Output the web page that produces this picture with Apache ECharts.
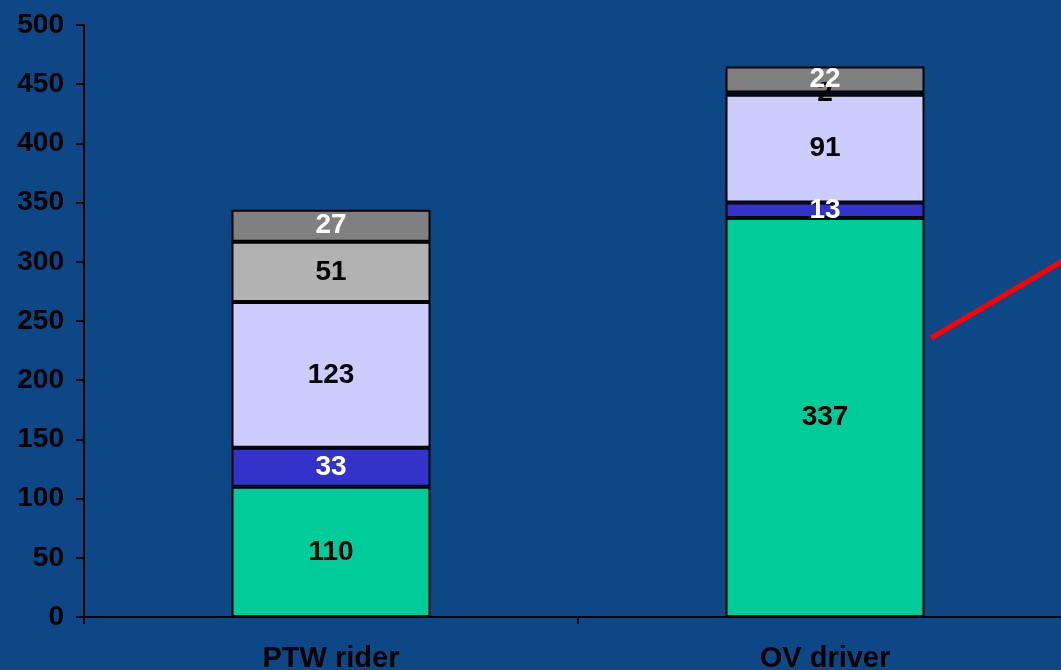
<!DOCTYPE html>
<html>
<head>
<meta charset="utf-8">
<script src="https://cdn.jsdelivr.net/npm/echarts@6/dist/echarts.min.js"></script>
<style>
  html, body { margin: 0; padding: 0; background: #0E4785; overflow: hidden; }
  #chart { width: 1072px; height: 670px; }
</style>
</head>
<body>
<div id="chart"></div>
<script>
const categories = ['PTW rider', 'OV driver'];
const seriesNames = ['s1', 's2', 's3', 's4', 's5'];
const s1 = [110, 337];
const s2 = [33, 13];
const s3 = [123, 91];
const s4 = [51, 2];
const s5 = [27, 22];
const yTicks = { min: 0, max: 500, interval: 50 };

const colors = ['#00CC99', '#3333CC', '#CCCCFF', '#B2B2B2', '#808080'];
const labelColors = ['#000', '#fff', '#000', '#000', '#fff'];
const values = [s1, s2, s3, s4, s5];

const chart = echarts.init(document.getElementById('chart'));

const series = values.map((data, i) => ({
    name: seriesNames[i],
    type: 'bar',
    stack: 'total',
    barWidth: 199,
    data: data,
    itemStyle: { color: colors[i], borderColor: '#000', borderWidth: 2 },
    label: {
        show: true,
        position: 'inside',
        color: labelColors[i],
        fontFamily: 'Liberation Sans, Arial',
        fontWeight: 'bold',
        fontSize: 28
    }
}));

chart.setOption({
    backgroundColor: '#0E4785',
    animation: false,
    grid: { left: 84, top: 25, bottom: 53, right: 0, outerBoundsMode: 'none' },
    xAxis: {
        type: 'category',
        data: categories,
        axisLine: { lineStyle: { color: '#000', width: 2 } },
        axisTick: { show: true, length: 7, lineStyle: { color: '#000', width: 2 } },
        axisLabel: {
            color: '#000',
            fontFamily: 'Liberation Sans, Arial',
            fontWeight: 'bold',
            fontSize: 29,
            margin: 27
        }
    },
    yAxis: {
        type: 'value',
        min: yTicks.min,
        max: yTicks.max,
        interval: yTicks.interval,
        splitLine: { show: false },
        axisLine: { show: true, lineStyle: { color: '#000', width: 2 } },
        axisTick: { show: true, length: 8, lineStyle: { color: '#000', width: 2 } },
        axisLabel: {
            color: '#000',
            fontFamily: 'Liberation Sans, Arial',
            fontWeight: 'bold',
            fontSize: 28,
            margin: 20
        }
    },
    series: series,
    graphic: [{
        type: 'line',
        shape: { x1: 931, y1: 338, x2: 1066, y2: 259 },
        style: { stroke: '#FF0000', lineWidth: 5 }
    }]
});
</script>
</body>
</html>
